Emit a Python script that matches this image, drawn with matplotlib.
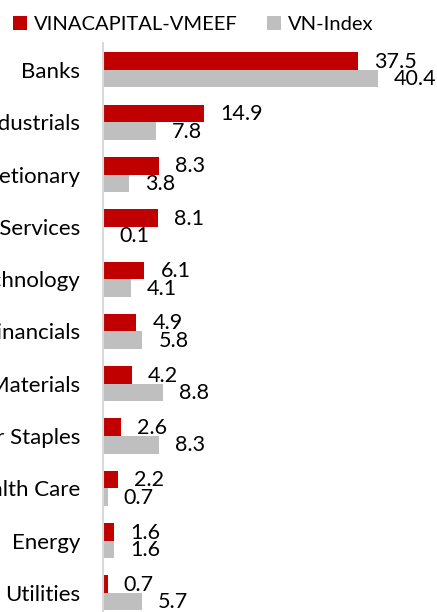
import numpy as np
import matplotlib.pyplot as plt

categories = ["Banks", "Industrials", "Consumer Discretionary", "Communication Services",
              "Information Technology", "Diversified Financials", "Materials",
              "Consumer Staples", "Health Care", "Energy", "Utilities"]
fund = [37.5, 14.9, 8.3, 8.1, 6.1, 4.9, 4.2, 2.6, 2.2, 1.6, 0.7]
index = [40.4, 7.8, 3.8, 0.1, 4.1, 5.8, 8.8, 8.3, 0.7, 1.6, 5.7]
series_names = ["VINACAPITAL-VMEEF", "VN-Index"]

plt.rcParams['font.family'] = ['Lato', 'DejaVu Sans']

W, H = 437, 612
fig = plt.figure(figsize=(W / 100, H / 100), dpi=100)

# axes placed in pixel terms, bottom runs a bit past the figure edge
left, top, right, bottom = 103, 43, 437, 619
ax = fig.add_axes([left / W, 1 - bottom / H, (right - left) / W, (bottom - top) / H])

y = np.arange(len(categories))
h = 0.335
b1 = ax.barh(y - h / 2, fund, height=h, color="#C00000", label=series_names[0])
b2 = ax.barh(y + h / 2, index, height=h, color="#BFBFBF", label=series_names[1])

for vals, offs in [(fund, y - h / 2), (index, y + h / 2)]:
    for v, yy in zip(vals, offs):
        ax.annotate(f"{v:.1f}", (v, yy), xytext=(11.5, -0.5), textcoords="offset points",
                    ha="left", va="center", fontsize=15.5, color="#000000")

ax.set_xlim(0, (right - left) / 6.8)
ax.set_ylim(10.5, -0.516)
ax.set_yticks(y)
ax.set_yticklabels(categories, fontsize=16)
ax.tick_params(axis="y", length=0, pad=16.5)
ax.set_xticks([])
for s in ["top", "right", "bottom"]:
    ax.spines[s].set_visible(False)
ax.spines["left"].set_color("#D9D9D9")
ax.spines["left"].set_linewidth(1.5)

fig.legend(handles=[b1, b2], loc="upper left", bbox_to_anchor=(0.0, 0.995), ncol=2,
           frameon=False, fontsize=14.5, handlelength=0.7, handleheight=0.7,
           handletextpad=0.35, columnspacing=1.45, borderaxespad=0.2, borderpad=0.45)

fig.savefig("out.png", dpi=100)
